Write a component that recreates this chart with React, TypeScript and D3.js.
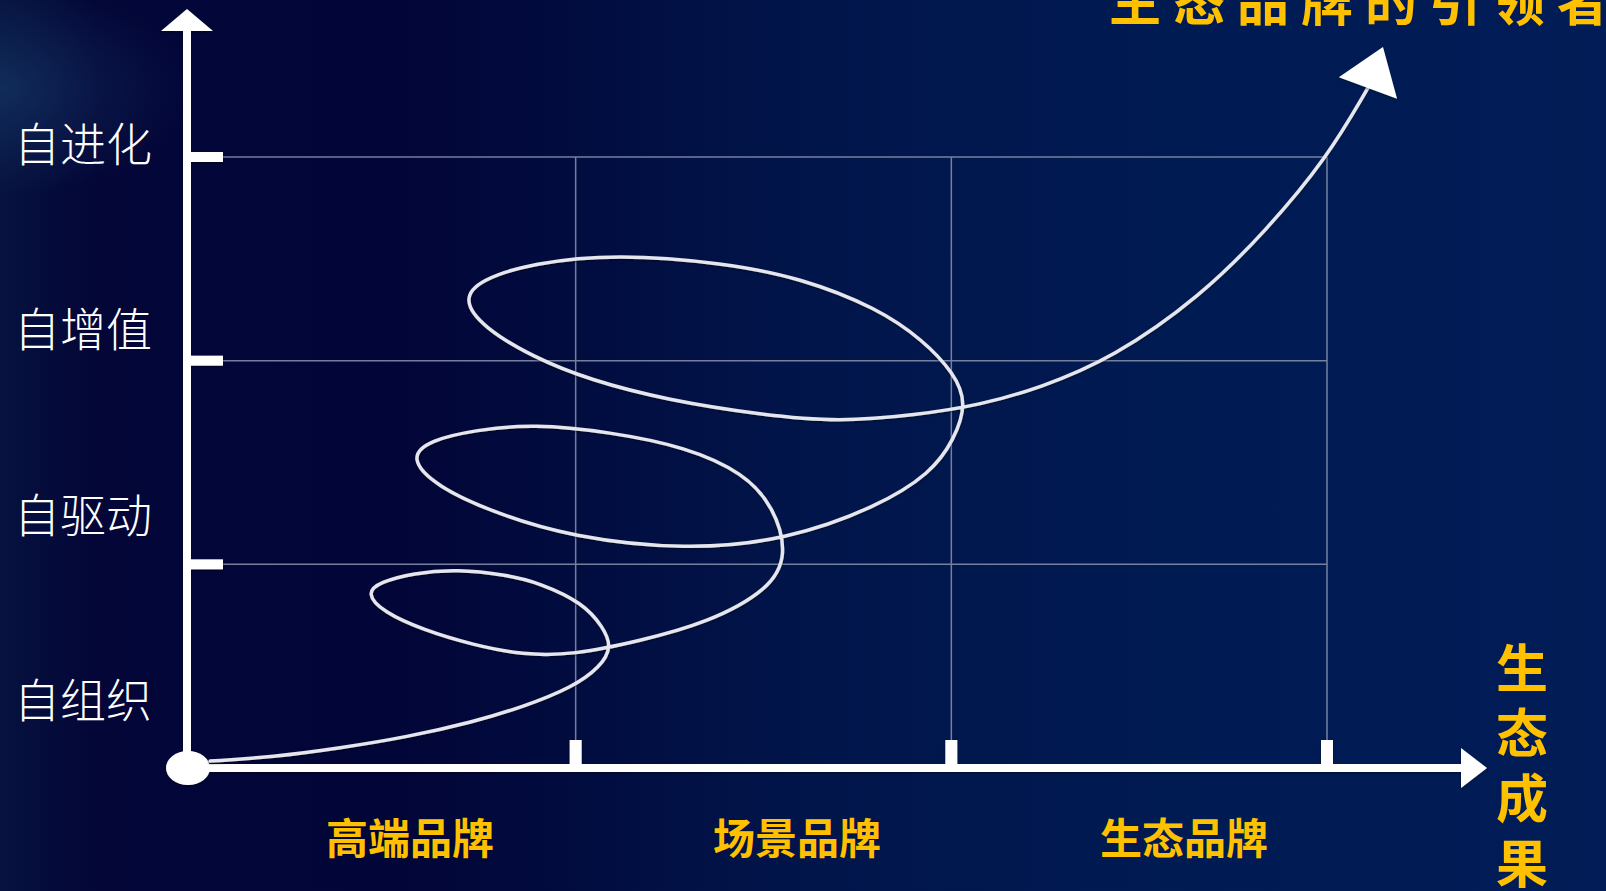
import React, { useEffect } from 'react';
import * as d3 from 'd3';

const W = 1606;
const H = 891;

// ---- data ----
const levelLabels = ['自组织', '自驱动', '自增值', '自进化'];
const levelGrid = [1, 2, 3];
const stageLabels = ['高端品牌', '场景品牌', '生态品牌'];
const stageGrid = [1, 2, 3];
const xAxisTitle = '生态成果';
const topTitle = '生态品牌的引领者';

// spiral path control points (x: stage units, y: level units)
const spiralX = [
  0.027, 0.194, 0.373, 0.551, 0.727, 0.86, 0.993, 1.065, 1.097, 1.073, 1.02, 0.905, 0.817,
  0.684, 0.567, 0.479, 0.442, 0.487, 0.594, 0.727, 0.86, 0.993, 1.171, 1.35, 1.515, 1.565,
  1.528, 1.448, 1.294, 1.091, 0.886, 0.735, 0.612, 0.556, 0.631, 0.785, 0.988, 1.294, 1.56,
  1.802, 1.946, 2.007, 2.042, 2.007, 1.925, 1.802, 1.6, 1.395, 1.11, 0.886, 0.743, 0.7,
  0.753, 0.886, 1.038, 1.243, 1.499, 1.701, 1.906, 2.076, 2.236, 2.43, 2.662, 2.84, 3.0, 3.109,
];
const spiralY = [
  0.034, 0.054, 0.098, 0.152, 0.226, 0.3, 0.398, 0.496, 0.594, 0.692, 0.81, 0.908, 0.948,
  0.977, 0.957, 0.913, 0.859, 0.766, 0.678, 0.604, 0.555, 0.555, 0.624, 0.712, 0.874, 1.046,
  1.281, 1.448, 1.576, 1.65, 1.689, 1.66, 1.61, 1.522, 1.38, 1.252, 1.134, 1.07, 1.119,
  1.281, 1.448, 1.61, 1.792, 1.939, 2.101, 2.259, 2.406, 2.48, 2.524, 2.48, 2.396, 2.298,
  2.165, 2.018, 1.905, 1.807, 1.733, 1.699, 1.733, 1.782, 1.866, 2.013, 2.313, 2.642, 2.995, 3.339,
];
const arrowTip = [3.149, 3.54];

export default function App() {
  useEffect(() => {
    document.body.style.margin = '0';
    document.body.style.overflow = 'hidden';
  }, []);

  const x = d3.scaleLinear().domain([0, 3]).range([200, 1327]);
  const y = d3.scaleLinear().domain([0, 3]).range([768, 157]);
  const levelPos = d3.scalePoint<string>().domain(levelLabels).range([697, 141]);
  const stagePos = d3.scalePoint<string>().domain(stageLabels).range([410, 1184]);

  const axisX = 187;
  const axisY = 768;
  const gridRight = x(3);
  const gridTop = y(3);

  const pts: [number, number][] = spiralX.map((v, i) => [x(v), y(spiralY[i])]);
  const line = d3.line().curve(d3.curveBasis);
  const pathD = line(pts) || '';

  // arrow head at end of spiral
  const tip: [number, number] = [x(arrowTip[0]), y(arrowTip[1])];
  const base = pts[pts.length - 1];
  const dx = tip[0] - base[0];
  const dy = tip[1] - base[1];
  const len = Math.hypot(dx, dy);
  const nx = -dy / len;
  const ny = dx / len;
  const hw = 31;
  const head = `M${tip[0]},${tip[1]}L${base[0] + nx * hw},${base[1] + ny * hw}L${base[0] - nx * hw},${base[1] - ny * hw}Z`;

  const gold = '#FFC000';
  const cjk = '"Noto Sans CJK SC", "Noto Sans", sans-serif';

  return (
    <svg width={W} height={H} style={{ position: 'absolute', left: 0, top: 0, display: 'block' }}>
      <defs>
        <linearGradient id="bg" x1="0" y1="0" x2="1" y2="0">
          <stop offset="0" stopColor="#06123f" />
          <stop offset="0.06" stopColor="#030637" />
          <stop offset="0.25" stopColor="#020537" />
          <stop offset="0.5" stopColor="#01154a" />
          <stop offset="0.75" stopColor="#001b53" />
          <stop offset="1" stopColor="#011c56" />
        </linearGradient>
        <radialGradient id="glow" cx="0" cy="0.1" r="0.12">
          <stop offset="0" stopColor="#2a6a98" stopOpacity="0.3" />
          <stop offset="1" stopColor="#2a6a98" stopOpacity="0" />
        </radialGradient>
        <filter id="shadow" x="-5%" y="-5%" width="110%" height="110%">
          <feDropShadow dx="0" dy="1" stdDeviation="1" floodColor="#000" floodOpacity="0.5" />
        </filter>
      </defs>
      <rect width={W} height={H} fill="url(#bg)" />
      <rect width={W} height={H} fill="url(#glow)" />

      {/* grid */}
      <g stroke="#8a93ad" strokeWidth={1.5} opacity={0.85}>
        {levelGrid.map((v) => (
          <line key={'h' + v} x1={axisX + 30} x2={gridRight} y1={y(v)} y2={y(v)} />
        ))}
        {stageGrid.map((v) => (
          <line key={'v' + v} x1={x(v)} x2={x(v)} y1={gridTop} y2={axisY - 28} />
        ))}
      </g>

      {/* axes */}
      <g fill="#ffffff" filter="url(#shadow)">
        <rect x={axisX - 4} y={31} width={8} height={axisY - 31} />
        <path d={`M${axisX},9L${axisX + 26},31L${axisX - 26},31Z`} />
        <rect x={axisX} y={axisY - 4} width={1461 - axisX} height={8} />
        <path d={`M1487,${axisY}L1461,${axisY - 20}L1461,${axisY + 20}Z`} />
        {levelGrid.map((v) => (
          <rect key={'yt' + v} x={axisX} y={y(v) - 5} width={36} height={10} />
        ))}
        {stageGrid.map((v) => (
          <rect key={'xt' + v} x={x(v) - 6} y={axisY - 28} width={12} height={28} />
        ))}
        <ellipse cx={axisX + 1} cy={axisY} rx={22} ry={17} />
      </g>

      {/* spiral */}
      <path d={pathD} fill="none" stroke="#e6e7ee" strokeWidth={3.5} strokeLinecap="round" filter="url(#shadow)" />
      <path d={head} fill="#ffffff" filter="url(#shadow)" />

      {/* y labels */}
      {levelLabels.map((l) => (
        <text key={l} x={14} y={levelPos(l)} dominantBaseline="central" fill="#ffffff"
          style={{ fontFamily: cjk, fontSize: 46, fontWeight: 300 }}>
          {l}
        </text>
      ))}

      {/* x labels */}
      {stageLabels.map((l) => (
        <text key={l} x={stagePos(l)} y={835} textAnchor="middle" dominantBaseline="central" fill={gold}
          style={{ fontFamily: cjk, fontSize: 42, fontWeight: 700 }}>
          {l}
        </text>
      ))}

      {/* x axis title, vertical */}
      <text x={1522} y={642} fill={gold}
        style={{ fontFamily: cjk, fontSize: 52, fontWeight: 700, writingMode: 'vertical-rl', letterSpacing: 13 } as any}>
        {xAxisTitle}
      </text>

      {/* top title (cut off at top) */}
      <text x={1109} y={21} fill={gold} style={{ fontFamily: cjk, fontSize: 52, fontWeight: 700, letterSpacing: 12 }}>
        {topTitle}
      </text>
    </svg>
  );
}
